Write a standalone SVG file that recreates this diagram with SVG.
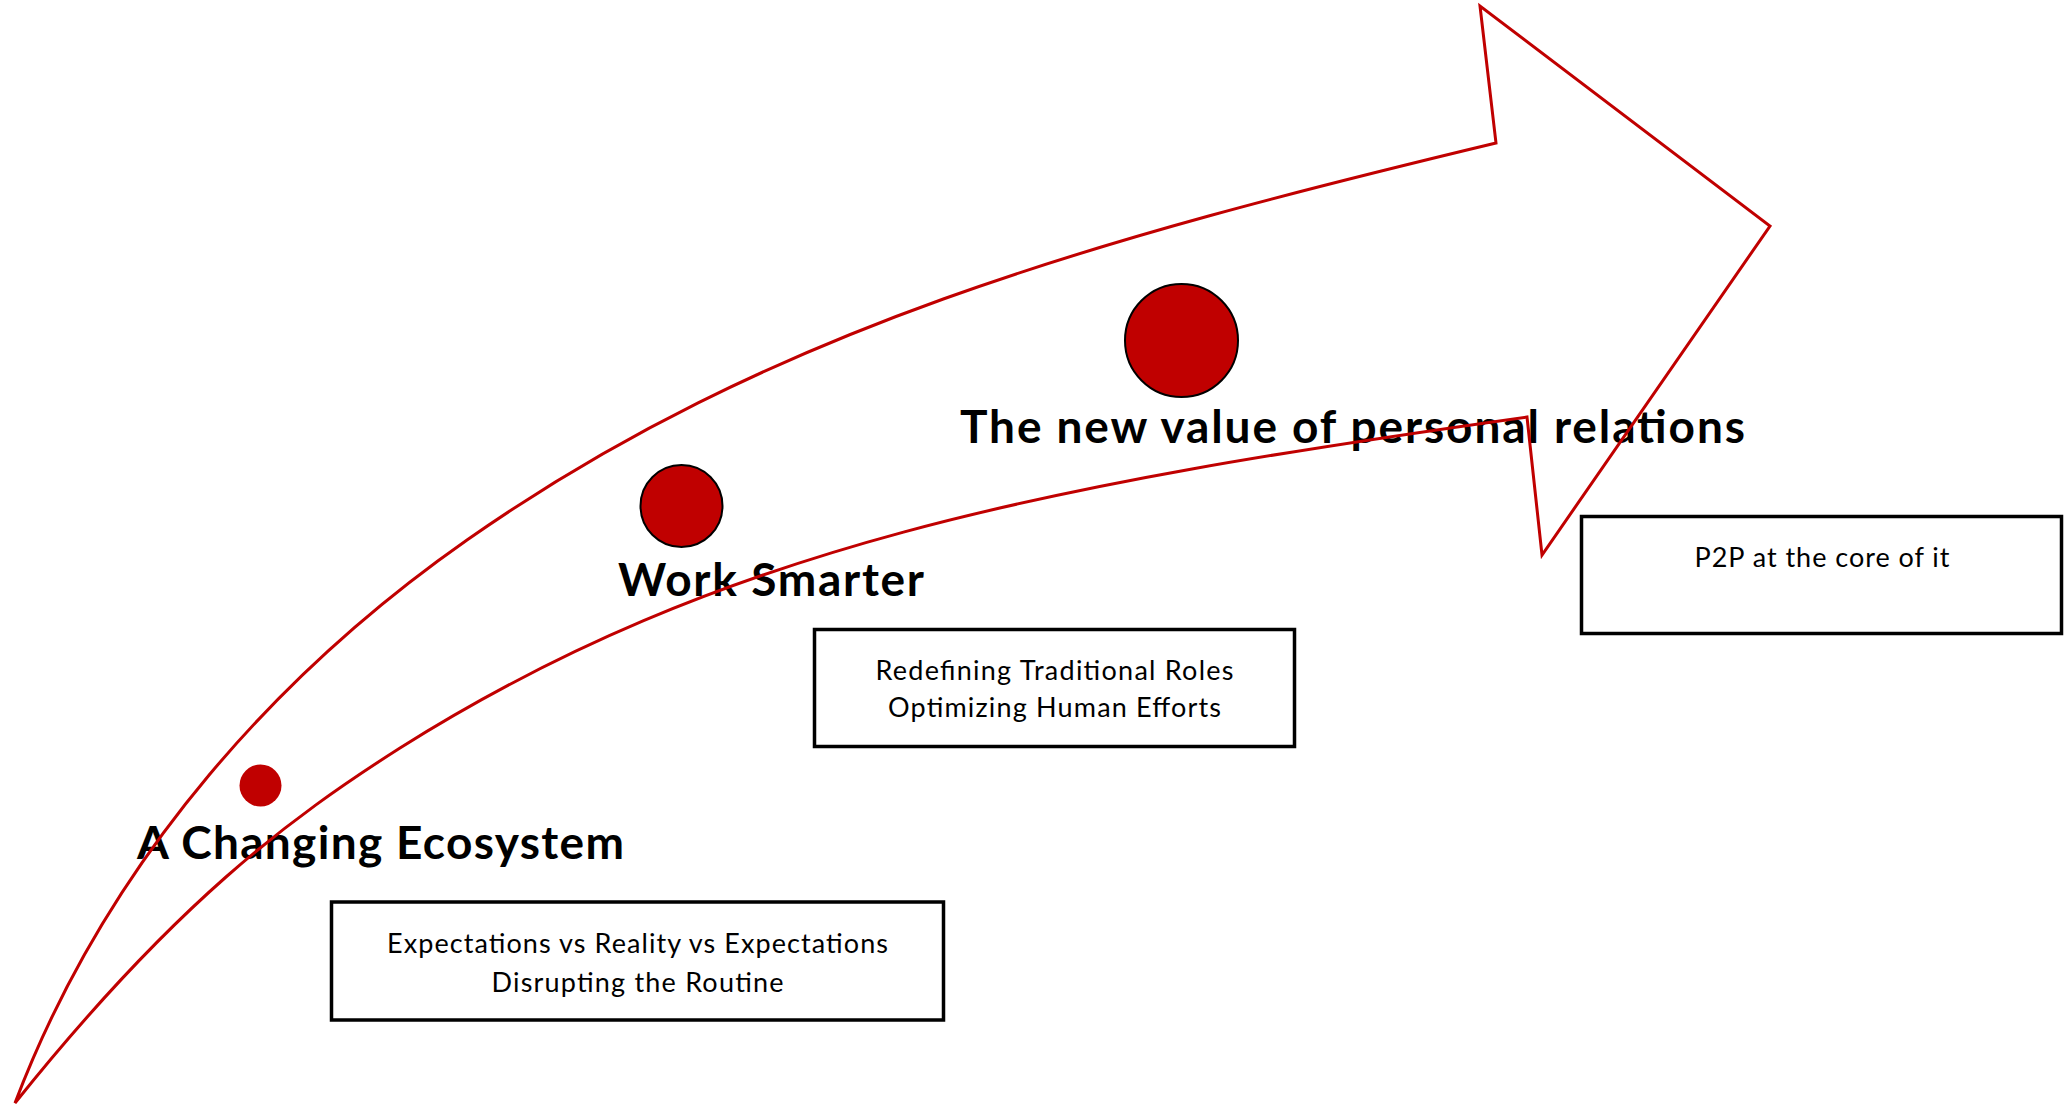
<svg xmlns="http://www.w3.org/2000/svg" width="2072" height="1105" viewBox="0 0 2072 1105">
<style>
.title{font-family:Lato,"Liberation Sans",sans-serif;font-weight:bold;font-size:46px;fill:#000}
.body{font-family:Lato,"Liberation Sans",sans-serif;font-size:27px;fill:#000;text-anchor:middle}
.box{fill:#fff;stroke:#000;stroke-width:3.5}
.dot{fill:#C00000;stroke:#000;stroke-width:2}
.arrow{fill:none;stroke:#C00000;stroke-width:3;stroke-linejoin:miter}
</style>
<rect width="2072" height="1105" fill="#fff"/>
<g id="stage1">
<circle cx="260.5" cy="785.5" r="21" fill="#C00000"/>
<text class="title" x="137" y="859" textLength="487">A Changing Ecosystem</text>
</g>
<g id="box1">
<rect class="box" x="331.5" y="902" width="612" height="118"/>
<text class="body" x="637.5" y="953" textLength="501">Expectations vs Reality vs Expectations</text>
<text class="body" x="637.5" y="992" textLength="292">Disrupting the Routine</text>
</g>
<g id="stage2">
<circle class="dot" cx="681.5" cy="506" r="41"/>
<text class="title" x="618" y="596" textLength="306">Work Smarter</text>
</g>
<g id="box2">
<rect class="box" x="814.5" y="629.5" width="480" height="117"/>
<text class="body" x="1054.5" y="680" textLength="358">Redefining Traditional Roles</text>
<text class="body" x="1054.5" y="717" textLength="333">Optimizing Human Efforts</text>
</g>
<g id="stage3">
<circle class="dot" cx="1181.5" cy="340.5" r="56.5"/>
<text class="title" x="960" y="443" textLength="785">The new value of personal relations</text>
</g>
<g id="box3">
<rect class="box" x="1581.5" y="516.5" width="480" height="117"/>
<text class="body" x="1822" y="567" textLength="255">P2P at the core of it</text>
</g>
<g id="connectors">
<path id="curved-arrow" class="arrow" d="M15,1103 C110,853 287,666 467,540 C767,330 1096,239 1496,143 L1480,6 L1770,226 L1542,555 L1527,417 C1047,484.2 720,546.4 400,748 C290,818 175,903 15,1103 Z"/>
</g>
</svg>
